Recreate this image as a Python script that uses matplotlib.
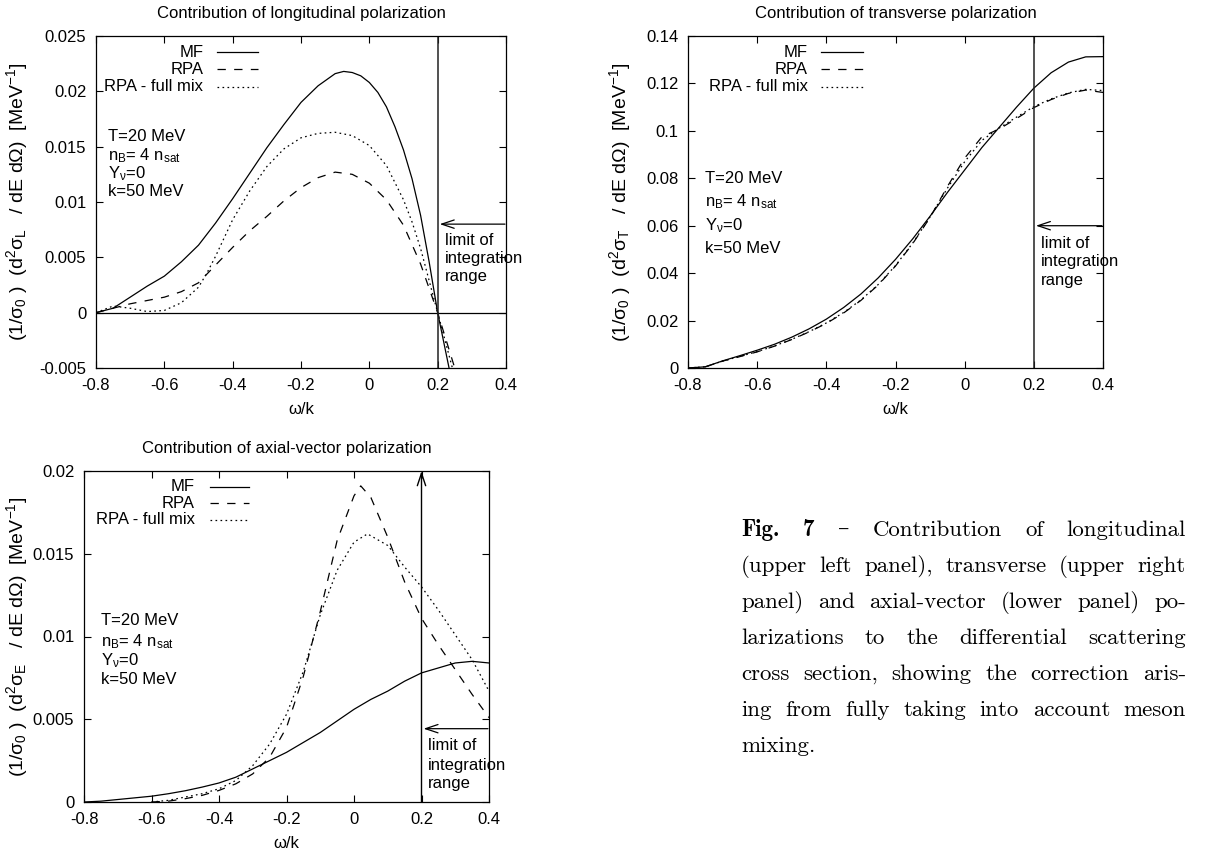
import matplotlib
matplotlib.use('Agg')
import matplotlib.pyplot as plt
from matplotlib.font_manager import FontProperties
from matplotlib.lines import Line2D

plt.rcParams['font.family'] = ['Liberation Sans', 'DejaVu Sans']
plt.rcParams['mathtext.default'] = 'regular'
plt.rcParams['axes.unicode_minus'] = False
plt.rcParams['lines.scale_dashes'] = False

# ---------------- data ----------------
X_TICKS = [-0.8, -0.6, -0.4, -0.2, 0.0, 0.2, 0.4]
X_TICK_LABELS = ['-0.8', '-0.6', '-0.4', '-0.2', '0', '0.2', '0.4']

SERIES_NAMES = ['MF', 'RPA', 'RPA - full mix']

# longitudinal
omega_L_mf = [-0.8, -0.75, -0.7, -0.65, -0.6, -0.55, -0.5, -0.45, -0.4, -0.35, -0.3, -0.25,
              -0.2, -0.15, -0.1, -0.075, -0.05, -0.025, 0.0, 0.025, 0.05, 0.075, 0.1, 0.125,
              0.15, 0.175, 0.2, 0.25]
mf_L = [0, 0.0004, 0.0014, 0.0024, 0.0033, 0.0046, 0.0061, 0.0081, 0.0103, 0.0126, 0.0149,
        0.0170, 0.0190, 0.0205, 0.0216, 0.0218, 0.0217, 0.0214, 0.0208, 0.0199, 0.0186,
        0.0168, 0.0147, 0.0121, 0.0088, 0.0046, 0.0, -0.0075]
omega_L_rpa = [-0.8, -0.75, -0.7, -0.65, -0.6, -0.55, -0.5, -0.45, -0.4, -0.35, -0.3, -0.25,
               -0.2, -0.15, -0.1, -0.05, 0.0, 0.05, 0.1, 0.15, 0.2, 0.25]
rpa_L = [0, 0.0004, 0.0008, 0.0011, 0.0014, 0.0019, 0.0027, 0.0043, 0.0059, 0.0074, 0.0087,
         0.0101, 0.0113, 0.0122, 0.0127, 0.0125, 0.0117, 0.0102, 0.0079, 0.0044, 0.0, -0.0050]
omega_L_mix = [-0.8, -0.775, -0.75, -0.7, -0.65, -0.6, -0.55, -0.5, -0.475, -0.45, -0.4, -0.35,
               -0.3, -0.25, -0.2, -0.15, -0.1, -0.05, 0.0, 0.05, 0.1, 0.125, 0.15, 0.175,
               0.2, 0.25]
mix_L = [0, 0.0003, 0.0006, 0.0004, 0.0001, 0.0002, 0.0009, 0.0023, 0.0036, 0.0051, 0.0084,
         0.0110, 0.0132, 0.0148, 0.0158, 0.0162, 0.0163, 0.0160, 0.0151, 0.0133, 0.0102,
         0.0082, 0.0058, 0.0029, 0.0, -0.0058]
Y_TICKS_L = [-0.005, 0.0, 0.005, 0.01, 0.015, 0.02, 0.025]
Y_TICK_LABELS_L = ['-0.005', '0', '0.005', '0.01', '0.015', '0.02', '0.025']

# transverse
omega_T = [-0.8, -0.75, -0.7, -0.65, -0.6, -0.55, -0.5, -0.45, -0.4, -0.35, -0.3, -0.25, -0.2,
           -0.15, -0.1, -0.05, 0.0, 0.05, 0.1, 0.15, 0.2, 0.25, 0.3, 0.35, 0.4]
mf_T = [0, 0.0005, 0.0030, 0.0052, 0.0075, 0.0100, 0.0130, 0.0165, 0.0206, 0.0255, 0.0312,
        0.0380, 0.0458, 0.0545, 0.0640, 0.0740, 0.0835, 0.0930, 0.1015, 0.1100, 0.1180,
        0.1245, 0.1290, 0.1312, 0.1313]
rpa_T = [0, 0.0005, 0.0029, 0.0048, 0.0068, 0.0092, 0.0120, 0.0152, 0.0188, 0.0232, 0.0285,
         0.0350, 0.0430, 0.0525, 0.0635, 0.0765, 0.0885, 0.0975, 0.1008, 0.1052, 0.1098,
         0.1132, 0.1158, 0.1172, 0.1162]
mix_T = [0, 0.0005, 0.0029, 0.0049, 0.0069, 0.0093, 0.0121, 0.0153, 0.0190, 0.0234, 0.0287,
         0.0352, 0.0432, 0.0527, 0.0637, 0.0758, 0.0870, 0.0960, 0.1012, 0.1058, 0.1102,
         0.1135, 0.1160, 0.1175, 0.1170]
Y_TICKS_T = [0.0, 0.02, 0.04, 0.06, 0.08, 0.1, 0.12, 0.14]
Y_TICK_LABELS_T = ['0', '0.02', '0.04', '0.06', '0.08', '0.1', '0.12', '0.14']

# axial-vector
omega_E_mf = [-0.8, -0.75, -0.7, -0.65, -0.6, -0.55, -0.5, -0.45, -0.4, -0.35, -0.3, -0.25, -0.2,
              -0.15, -0.1, -0.05, 0.0, 0.05, 0.1, 0.15, 0.2, 0.25, 0.3, 0.35, 0.4]
mf_E = [0, 0.00005, 0.00015, 0.00025, 0.00035, 0.0005, 0.00068, 0.0009, 0.00115, 0.0015, 0.0020,
        0.0025, 0.0030, 0.0036, 0.0042, 0.0049, 0.0056, 0.0062, 0.0067, 0.0073, 0.0078,
        0.0081, 0.0084, 0.0085, 0.0084]
omega_E_rpa = [-0.6, -0.55, -0.5, -0.45, -0.4, -0.35, -0.3, -0.25, -0.2, -0.15, -0.1, -0.05,
               0.0, 0.02, 0.05, 0.1, 0.15, 0.2, 0.25, 0.3, 0.35, 0.4]
rpa_E = [0, 0.00005, 0.0002, 0.0004, 0.0007, 0.0011, 0.0017, 0.0027, 0.0045, 0.0076, 0.0115,
         0.0158, 0.0185, 0.0191, 0.0184, 0.0160, 0.0133, 0.0111, 0.0095, 0.0080, 0.0065, 0.0051]
omega_E_mix = [-0.6, -0.55, -0.5, -0.45, -0.4, -0.35, -0.3, -0.25, -0.2, -0.15, -0.1, -0.05,
               0.0, 0.04, 0.1, 0.15, 0.2, 0.25, 0.3, 0.35, 0.4]
mix_E = [0, 0.0001, 0.0003, 0.0005, 0.0008, 0.0013, 0.0022, 0.0035, 0.0053, 0.0079, 0.0113,
         0.0140, 0.0157, 0.0162, 0.0155, 0.0142, 0.0130, 0.0116, 0.0101, 0.0086, 0.0067]
Y_TICKS_E = [0.0, 0.005, 0.01, 0.015, 0.02]
Y_TICK_LABELS_E = ['0', '0.005', '0.01', '0.015', '0.02']

PARAM_LINES = ['T=20 MeV', 'n$_B$= 4 n$_{sat}$', 'Y$_{ν}$=0', 'k=50 MeV']
LIMIT_TEXT = ['limit of', 'integration', 'range']
OMEGA_LIMIT = 0.2

CAPTION = [
    [('Fig.', 'b'), ('7', 'b'), ('–', 'r'), ('Contribution', 'r'), ('of', 'r'), ('longitudinal', 'r')],
    [('(upper', 'r'), ('left', 'r'), ('panel),', 'r'), ('transverse', 'r'), ('(upper', 'r'), ('right', 'r')],
    [('panel)', 'r'), ('and', 'r'), ('axial-vector', 'r'), ('(lower', 'r'), ('panel)', 'r'), ('po-', 'r')],
    [('larizations', 'r'), ('to', 'r'), ('the', 'r'), ('differential', 'r'), ('scattering', 'r')],
    [('cross', 'r'), ('section,', 'r'), ('showing', 'r'), ('the', 'r'), ('correction', 'r'), ('aris-', 'r')],
    [('ing', 'r'), ('from', 'r'), ('fully', 'r'), ('taking', 'r'), ('into', 'r'), ('account', 'r'), ('meson', 'r')],
    [('mixing.', 'r')],
]

# ---------------- figure ----------------
W, H = 1217, 856
fig = plt.figure(figsize=(W / 100, H / 100), dpi=100)

STYLES = {
    'MF': dict(linestyle='-'),
    'RPA': dict(linestyle=(0, (6, 6))),
    'RPA - full mix': dict(linestyle=(0, (1.2, 2.4))),
}
LW = 0.9
FS = 12


def px_rect(l, r, t, b):
    return [l / W, 1 - b / H, (r - l) / W, (b - t) / H]


def make_axes(rect, ylim, yticks, yticklabels, title, ylabel, ylab_x):
    ax = fig.add_axes(rect)
    ax.set_xlim(-0.8, 0.4)
    ax.set_ylim(*ylim)
    ax.set_xticks(X_TICKS)
    ax.set_xticklabels(X_TICK_LABELS)
    ax.set_yticks(yticks)
    ax.set_yticklabels(yticklabels)
    ax.tick_params(direction='in', length=5, width=0.8, top=True, right=True, labelsize=FS)
    ax.tick_params(axis='x', pad=7)
    ax.tick_params(axis='y', pad=7)
    ax.set_title(title, fontsize=FS, pad=13)
    ax.set_xlabel('ω/k', fontsize=FS, labelpad=7)
    ax.set_ylabel(ylabel, fontsize=14, va='center')
    ax.yaxis.set_label_coords(ylab_x, 0.5)
    for s in ax.spines.values():
        s.set_linewidth(0.9)
    return ax


def legend(ax, xt, xl0, xl1, ys):
    for name, y in zip(SERIES_NAMES, ys):
        ax.text(xt, y, name, transform=ax.transAxes, ha='right', va='center', fontsize=FS)
        ax.add_line(Line2D([xl0, xl1], [y, y], transform=ax.transAxes, color='black',
                           lw=LW, **STYLES[name]))


def params(ax, x, ys):
    for s, y in zip(PARAM_LINES, ys):
        ax.text(x, y, s, transform=ax.transAxes, ha='left', va='center', fontsize=FS)


def limit(ax, y_arrow, ys_text, up_arrow=False, ymin=None, ymax=None):
    if up_arrow:
        ax.annotate('', xy=(OMEGA_LIMIT, ymax), xytext=(OMEGA_LIMIT, ymin),
                    arrowprops=dict(arrowstyle='->,head_length=0.9,head_width=0.3',
                                    lw=1.0, color='black', shrinkA=0, shrinkB=0))
    else:
        ax.axvline(OMEGA_LIMIT, color='#222222', lw=1.1)
    ax.annotate('', xy=(OMEGA_LIMIT + 0.006, y_arrow), xytext=(0.397, y_arrow),
                arrowprops=dict(arrowstyle='->,head_length=0.9,head_width=0.3',
                                lw=0.9, color='black', shrinkA=0, shrinkB=0))
    for s, y in zip(LIMIT_TEXT, ys_text):
        ax.text(OMEGA_LIMIT + 0.02, y, s, ha='left', va='center', fontsize=FS)


def curves(ax, data):
    for name, (x, y) in zip(SERIES_NAMES, data):
        ax.plot(x, y, color='black', lw=LW, **STYLES[name])


YLAB = '(1/σ$_0$ )  (d$^2$σ$_{%s}$   / dE dΩ)  [MeV$^{-1}$]'

# panel L
axL = make_axes(px_rect(96, 506, 36, 368), (-0.005, 0.025), Y_TICKS_L, Y_TICK_LABELS_L,
                'Contribution of longitudinal polarization', YLAB % 'L', -0.193)
axL.axhline(0, color='black', lw=0.9)
curves(axL, [(omega_L_mf, mf_L), (omega_L_rpa, rpa_L), (omega_L_mix, mix_L)])
legend(axL, 0.262, 0.295, 0.396, [0.951, 0.900, 0.847])
params(axL, 0.030, [0.696, 0.641, 0.586, 0.531])
limit(axL, 0.0080, [0.00655, 0.0049, 0.0033])

# panel T
axT = make_axes(px_rect(688, 1103, 36, 368), (0.0, 0.14), Y_TICKS_T, Y_TICK_LABELS_T,
                'Contribution of transverse polarization', YLAB % 'T', -0.164)
curves(axT, [(omega_T, mf_T), (omega_T, rpa_T), (omega_T, mix_T)])
legend(axT, 0.289, 0.321, 0.422, [0.951, 0.900, 0.847])
params(axT, 0.040, [0.571, 0.500, 0.428, 0.360])
limit(axT, 0.060, [0.0527, 0.0449, 0.0370])

# panel E
axE = make_axes(px_rect(84, 489, 471, 802), (0.0, 0.02), Y_TICKS_E, Y_TICK_LABELS_E,
                'Contribution of axial-vector polarization', YLAB % 'E', -0.165)
curves(axE, [(omega_E_mf, mf_E), (omega_E_rpa, rpa_E), (omega_E_mix, mix_E)])
legend(axE, 0.274, 0.311, 0.408, [0.953, 0.902, 0.852])
params(axE, 0.041, [0.549, 0.484, 0.428, 0.370])
limit(axE, 0.00443, [0.0034, 0.0022, 0.0011], up_arrow=True, ymin=0.0, ymax=0.02)

# caption (justified)
fp_r = FontProperties(family=['cmr10', 'DejaVu Serif'], size=16.5)
fp_b = FontProperties(family=['cmb10', 'DejaVu Serif'], size=16.5)
X0, X1 = 741, 1186
BASELINES = [536, 572, 608, 644, 680, 716, 752]
renderer = fig.canvas.get_renderer()
for i, (words, b) in enumerate(zip(CAPTION, BASELINES)):
    texts = []
    for w, style in words:
        t = fig.text(0, 1 - b / H, w, fontproperties=fp_b if style == 'b' else fp_r,
                     va='baseline', ha='left')
        texts.append(t)
    widths = [t.get_window_extent(renderer).width for t in texts]
    last = (i == len(CAPTION) - 1)
    if last or len(texts) == 1:
        gap = 0.333 * 16.5 * 100 / 72
    else:
        gap = (X1 - X0 - sum(widths)) / (len(texts) - 1)
    x = X0
    for t, w in zip(texts, widths):
        t.set_x(x / W)
        x += w + gap

fig.savefig('out.png', dpi=100)
